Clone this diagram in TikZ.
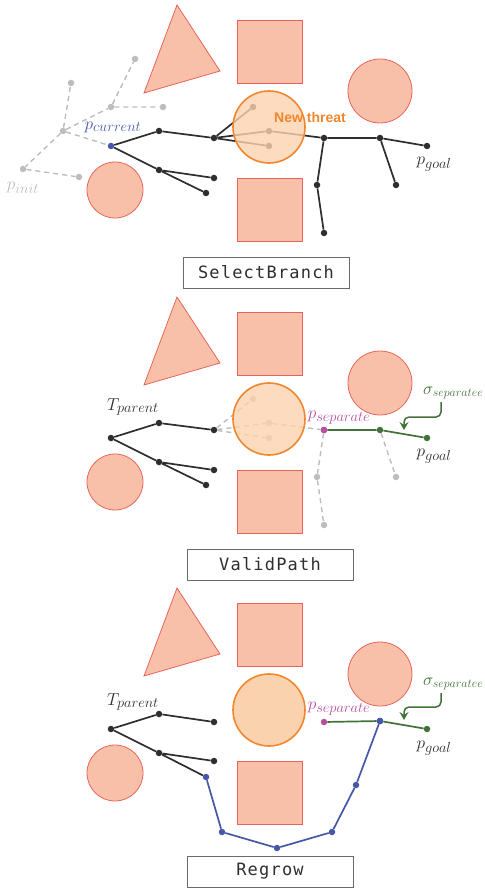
\documentclass[tikz,border=0pt]{standalone}
\usepackage{fontspec}
\newfontfamily\boxfont[LetterSpace=7]{DejaVu Sans Mono}
\newfontfamily\threatfont{Liberation Sans}
\usetikzlibrary{arrows.meta}
\definecolor{obsfill}{HTML}{F8C0A8}
\definecolor{obsline}{HTML}{E8645A}
\definecolor{thrfill}{HTML}{FBD2AE}
\definecolor{thrline}{HTML}{F0862E}
\definecolor{treeblk}{HTML}{2E2E2E}
\definecolor{treegray}{HTML}{BDBDBD}
\definecolor{pathblue}{HTML}{4657A8}
\definecolor{sepmag}{HTML}{B5509E}
\definecolor{sepgreen}{HTML}{42713A}
\definecolor{boxline}{HTML}{6A6A6A}

% static obstacles shared by all three stages
\newcommand\drawobstacles{%
  \draw[obstacle] (177,5) -- (220,71) -- (144,93) -- cycle;
  \draw[obstacle] (237,20) rectangle (302,83);
  \draw[obstacle] (237,178) rectangle (302,241);
  \draw[obstacle] (380,91) circle[radius=32pt];
  \draw[obstacle] (115,190) circle[radius=28pt];
}

\begin{document}
\begin{tikzpicture}[x=1pt,y=-1pt,
  obstacle/.style={fill=obsfill,draw=obsline,line width=0.8pt},
  threat/.style={fill=thrfill,fill opacity=0.8,draw=thrline,draw opacity=1,line width=1.6pt},
  dot/.style={circle,inner sep=0pt,minimum size=6.5pt},
  bdot/.style={dot,fill=treeblk},
  gdot/.style={dot,fill=treegray},
  udot/.style={dot,fill=pathblue},
  mdot/.style={dot,fill=sepmag},
  vdot/.style={dot,fill=sepgreen},
  tedge/.style={draw=treeblk,line width=1.7pt},
  dedge/.style={draw=treegray,line width=1.4pt,dash pattern=on 5pt off 4pt},
  vedge/.style={draw=sepgreen,line width=1.7pt},
  uedge/.style={draw=pathblue,line width=1.7pt},
  lab/.style={inner sep=0pt,font=\fontsize{19}{22}\selectfont},
  siglab/.style={inner sep=0pt,anchor=west,text=sepgreen,font=\fontsize{18}{21}\selectfont},
  stagebox/.style={draw=boxline,line width=0.8pt,minimum width=166pt,minimum height=31pt,
    inner sep=0pt,font=\boxfont\fontsize{17}{20}\selectfont,text=treeblk},
  sigarrow/.style={draw=sepgreen,line width=1.5pt,rounded corners=5pt,
    -{Stealth[length=8pt,width=9pt,inset=3pt]}}
]
\useasboundingbox (0,0) rectangle (484,890);

% ---------------- stage 1: SelectBranch ----------------
\drawobstacles
\node[gdot] (g0) at (63,131) {};
\node[gdot] (gi) at (23,169) {};
\node[gdot] (g1) at (79,177) {};
\node[gdot] (g2) at (71,83) {};
\node[gdot] (g3) at (111,107) {};
\node[gdot] (g4) at (135,59) {};
\node[gdot] (g5) at (163,107) {};
\node[udot] (r1) at (111,146) {};
\node[bdot] (a1) at (159,131) {};
\node[bdot] (b1) at (214,138) {};
\node[bdot] (c1) at (159,170) {};
\node[bdot] (d1) at (214,178) {};
\node[bdot] (e1) at (206,193) {};
\node[bdot] (f1) at (253,107) {};
\node[bdot] (g1n) at (269,131) {};
\node[bdot] (h1) at (269,146) {};
\node[bdot] (i1) at (324,138) {};
\node[bdot] (j1) at (380,138) {};
\node[bdot] (k1) at (427,146) {};
\node[bdot] (l1) at (317,185) {};
\node[bdot] (m1) at (324,233) {};
\node[bdot] (n1) at (396,185) {};
\path[dedge] (g0) -- (r1) (g0) -- (gi) -- (g1) (g0) -- (g2)
  (g0) -- (g3) -- (g4) (g3) -- (g5);
\path[tedge] (r1) -- (a1) -- (b1) (r1) -- (c1) -- (d1) (c1) -- (e1)
  (b1) -- (f1) (b1) -- (g1n) -- (i1) (b1) -- (h1) (i1) -- (j1) -- (k1)
  (i1) -- (l1) -- (m1) (j1) -- (n1);
\draw[threat] (269,127) circle[radius=36pt];
\node[lab,text=pathblue] (lcur) at (113,127) {$p_{current}$};
\node[lab,text=treegray] (linit) at (23,188) {$p_{init}$};
\node[lab,text=treeblk] (lgoal1) at (434,164) {$p_{goal}$};
\node[text=thrline,inner sep=0pt,font=\threatfont\bfseries\fontsize{14}{16}\selectfont]
  (newthreat) at (310,117) {New threat};
\node[stagebox] (box1) at (266,272.5) {SelectBranch};

% ---------------- stage 2: ValidPath ----------------
\begin{scope}[shift={(0,292)}]
\drawobstacles
\node[bdot] (r2) at (111,146) {};
\node[bdot] (a2) at (159,131) {};
\node[bdot] (b2) at (214,138) {};
\node[bdot] (c2) at (159,170) {};
\node[bdot] (d2) at (214,178) {};
\node[bdot] (e2) at (206,193) {};
\node[gdot] (f2) at (253,107) {};
\node[gdot] (g2n) at (269,131) {};
\node[gdot] (h2) at (269,146) {};
\node[mdot] (i2) at (324,138) {};
\node[vdot] (j2) at (380,138) {};
\node[vdot] (k2) at (427,146) {};
\node[gdot] (l2) at (317,185) {};
\node[gdot] (m2) at (324,233) {};
\node[gdot] (n2) at (396,185) {};
\path[tedge] (r2) -- (a2) -- (b2) (r2) -- (c2) -- (d2) (c2) -- (e2);
\path[dedge] (b2) -- (f2) (b2) -- (g2n) -- (i2) (b2) -- (h2)
  (i2) -- (l2) -- (m2) (j2) -- (n2);
\path[vedge] (i2) -- (j2) -- (k2);
\node[mdot] at (i2) {};
\draw[threat] (269,127) circle[radius=36pt];
\node[lab,text=treeblk] (tpar2) at (133,115) {$T_{parent}$};
\node[lab,text=sepmag] (lsep2) at (339,126) {$p_{separate}$};
\node[lab,text=treeblk] (lgoal2) at (434,164) {$p_{goal}$};
\node[siglab] (sig2) at (423,101) {$\sigma_{separatee}$};
\coordinate (sa2) at (441,110);
\coordinate (st2) at (404,138);
\draw[sigarrow] (sa2) |- (404,125) -- (st2);
\end{scope}
\node[stagebox] (box2) at (270,564.5) {ValidPath};

% ---------------- stage 3: Regrow ----------------
\begin{scope}[shift={(0,583)}]
\drawobstacles
\node[bdot] (r3) at (111,146) {};
\node[bdot] (a3) at (159,131) {};
\node[bdot] (b3) at (214,139) {};
\node[bdot] (c3) at (159,170) {};
\node[bdot] (d3) at (214,178) {};
\node[udot] (e3) at (206,194) {};
\node[udot] (p1) at (222,249) {};
\node[udot] (p2) at (277,265) {};
\node[udot] (p3) at (332,249) {};
\node[udot] (p4) at (356,202) {};
\node[udot] (j3) at (380,138) {};
\node[mdot] (i3) at (324,139) {};
\node[vdot] (k3) at (427,146) {};
\path[tedge] (r3) -- (a3) -- (b3) (r3) -- (c3) -- (d3) (c3) -- (e3);
\path[uedge] (e3) -- (p1) -- (p2) -- (p3) -- (p4) -- (j3);
\path[vedge] (i3) -- (j3) -- (k3);
\node[udot] at (j3) {};
\draw[threat,fill opacity=1] (269,127) circle[radius=36pt];
\node[lab,text=treeblk] (tpar3) at (133,119) {$T_{parent}$};
\node[lab,text=sepmag] (lsep3) at (339,126) {$p_{separate}$};
\node[lab,text=treeblk] (lgoal3) at (434,165) {$p_{goal}$};
\node[siglab] (sig3) at (423,101) {$\sigma_{separatee}$};
\coordinate (sa3) at (441,110);
\coordinate (st3) at (404,137);
\draw[sigarrow] (sa3) |- (404,124) -- (st3);
\end{scope}
\node[stagebox] (box3) at (270,871.5) {Regrow};
\end{tikzpicture}
\end{document}
